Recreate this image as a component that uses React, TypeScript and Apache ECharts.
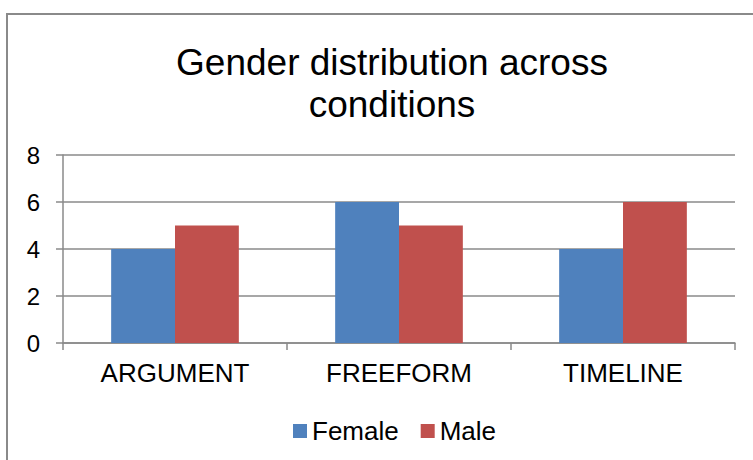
import React, { useEffect, useRef } from "react";
import * as echarts from "echarts";

const categories = ["ARGUMENT", "FREEFORM", "TIMELINE"];
const femaleValues = [4, 6, 4];
const maleValues = [5, 5, 6];
const seriesNames = ["Female", "Male"];
const titleText = "Gender distribution across\nconditions";

const FONT = "'Liberation Sans', Arial, sans-serif";
const GRAY = "#8a8a8a";

export default function App() {
  const ref = useRef<HTMLDivElement>(null);
  useEffect(() => {
    if (!ref.current) return;
    const chart = echarts.init(ref.current, null, { renderer: "svg" });
    chart.setOption({
      animation: false,
      backgroundColor: "#ffffff",
      textStyle: { fontFamily: FONT },
      title: {
        text: titleText,
        left: 387,
        top: 36,
        textAlign: "center",
        textStyle: {
          fontFamily: FONT,
          fontSize: 37,
          fontWeight: "normal",
          color: "#000000",
          lineHeight: 42,
        },
      },
      graphic: [
        {
          type: "rect",
          shape: { x: 7, y: 14, width: 800, height: 500 },
          style: { fill: "none", stroke: GRAY, lineWidth: 2 },
          silent: true,
          z: -1,
        },
      ],
      legend: {
        data: seriesNames,
        left: 288,
        top: 413,
        icon: "rect",
        itemWidth: 14,
        itemHeight: 14,
        itemGap: 22,
        textStyle: { fontFamily: FONT, fontSize: 26, color: "#000000" },
      },
      grid: { left: 63, right: 18, top: 155, bottom: 117, containLabel: false },
      xAxis: {
        type: "category",
        data: categories,
        axisLine: { show: true, lineStyle: { color: GRAY, width: 1.5 } },
        axisTick: { show: true, length: 7, lineStyle: { color: GRAY, width: 1.5 } },
        axisLabel: { fontFamily: FONT, fontSize: 26, color: "#000000", margin: 17 },
      },
      yAxis: {
        type: "value",
        min: 0,
        max: 8,
        interval: 2,
        axisLine: { show: true, lineStyle: { color: GRAY, width: 1.5 } },
        axisTick: { show: true, length: 7, lineStyle: { color: GRAY, width: 1.5 } },
        splitLine: { show: true, lineStyle: { color: GRAY, width: 1.5 } },
        axisLabel: { fontFamily: FONT, fontSize: 24, color: "#000000", margin: 23 },
      },
      series: [
        {
          name: seriesNames[0],
          type: "bar",
          data: femaleValues,
          barGap: "0%",
          barCategoryGap: "43%",
          itemStyle: { color: "#4F81BD" },
        },
        {
          name: seriesNames[1],
          type: "bar",
          data: maleValues,
          barGap: "0%",
          barCategoryGap: "43%",
          itemStyle: { color: "#C0504D" },
        },
      ],
    });
    return () => chart.dispose();
  }, []);
  return (
    <div
      ref={ref}
      style={{ position: "fixed", left: 0, top: 0, width: 753, height: 460 }}
    />
  );
}
